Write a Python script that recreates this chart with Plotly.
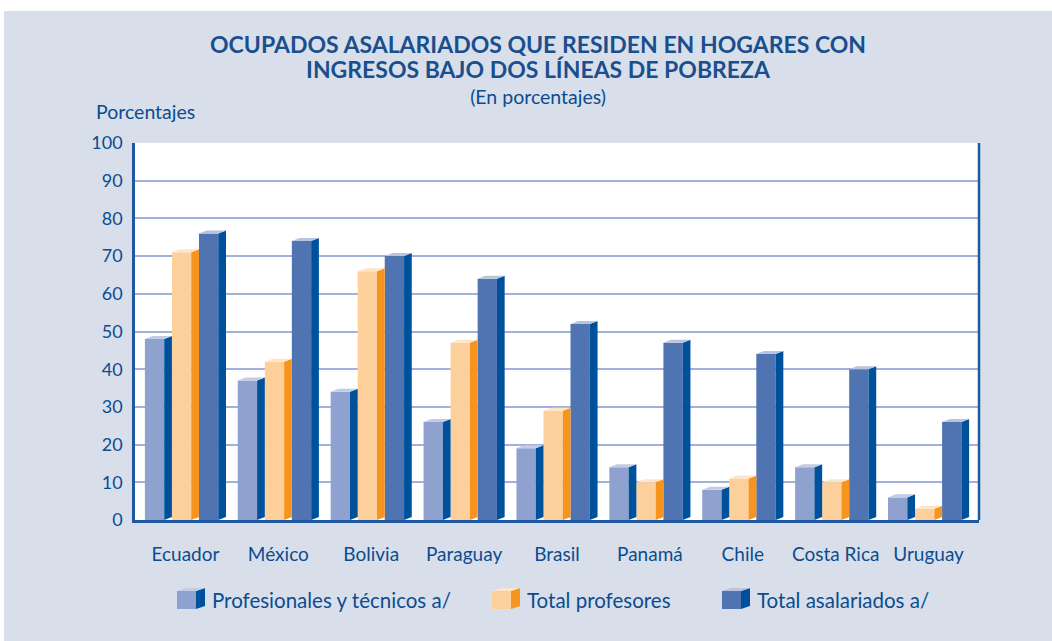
import plotly.graph_objects as go

categories = ["Ecuador", "México", "Bolivia", "Paraguay", "Brasil", "Panamá", "Chile", "Costa Rica", "Uruguay"]
profesionales = [48, 37, 34, 26, 19, 14, 8, 14, 6]
profesores = [71, 42, 66, 47, 29, 10, 11, 10, 3]
asalariados = [76, 74, 70, 64, 52, 47, 44, 40, 26]
series_names = ["Profesionales y técnicos a/", "Total profesores", "Total asalariados a/"]
y_ticks = [0, 10, 20, 30, 40, 50, 60, 70, 80, 90, 100]

series = [profesionales, profesores, asalariados]
front_cols = ["#8fa2cf", "#fdd09b", "#5073b2"]
side_cols = ["#00519b", "#f7941d", "#00519b"]
top_cols = ["#c3cce6", "#fee5c6", "#b9c3e0"]

W, H = 1052, 641
L, R, T, B = 135, 73, 143, 121
PW, PH = W - L - R, H - T - B

def px(x):
    return (x - L) / PW

def py(y):
    return (H - B - y) / PH

w = 0.208   # front face width (category units)
d = 0.083   # depth x
dy = 0.8    # depth y (value units)
start = -0.4365

fig = go.Figure()
n = len(categories)
for s, vals in enumerate(series):
    off = start + s * (w + d)
    fig.add_trace(go.Bar(x=list(range(n)), y=vals, width=w, offset=off,
                         marker=dict(color=front_cols[s], line=dict(width=0)),
                         name=series_names[s], showlegend=False, hoverinfo="y"))
    sx, sy, tx, ty = [], [], [], []
    for i, v in enumerate(vals):
        x0 = i + off
        x1 = x0 + w
        sx += [x1, x1 + d, x1 + d, x1, x1, None]
        sy += [0, dy, v + dy, v, 0, None]
        tx += [x0, x1, x1 + d, x0 + d, x0, None]
        ty += [v, v, v + dy, v + dy, v, None]
    fig.add_trace(go.Scatter(x=sx, y=sy, fill="toself", fillcolor=side_cols[s], mode="lines",
                             line=dict(width=0, color=side_cols[s]), showlegend=False, hoverinfo="skip"))
    fig.add_trace(go.Scatter(x=tx, y=ty, fill="toself", fillcolor=top_cols[s], mode="lines",
                             line=dict(width=0, color=top_cols[s]), showlegend=False, hoverinfo="skip"))

dark = "#0b4c8f"
txt_font = "Lato, 'Open Sans', sans-serif"

shapes = []
# white strip at top and left
shapes.append(dict(type="rect", xref="paper", yref="paper", x0=px(0), x1=px(W), y0=py(11), y1=py(0),
                   fillcolor="white", line=dict(width=0), layer="below"))
shapes.append(dict(type="rect", xref="paper", yref="paper", x0=px(0), x1=px(4), y0=py(H), y1=py(0),
                   fillcolor="white", line=dict(width=0), layer="below"))
# right border of plot
shapes.append(dict(type="line", xref="paper", yref="paper", x0=1, x1=1, y0=0, y1=1,
                   line=dict(color="#1f57a0", width=2.5)))

def ann(text, x, y, size, color=dark, xanchor="center"):
    return dict(text=text, x=px(x), y=py(y), xref="paper", yref="paper", showarrow=False,
                xanchor=xanchor, yanchor="middle", font=dict(family=txt_font, size=size, color=color))

title_text = ("<span style='font-size:23px;color:#1a4f8d'><b>OCUPADOS ASALARIADOS QUE RESIDEN EN HOGARES CON</b></span><br>"
              "<span style='font-size:23px;color:#1a4f8d'><b>INGRESOS BAJO DOS LÍNEAS DE POBREZA</b></span><br>"
              "(En porcentajes)")

annotations = [
    ann(title_text, 538, 69, 19.5),
    ann("Porcentajes", 94, 112, 19.5, xanchor="left"),
]

# manual legend
leg_x = [177, 492, 722]
for s in range(3):
    x0 = leg_x[s]
    x1 = x0 + 19
    x2 = x1 + 9
    ytop, ybot = 591, 609
    shapes.append(dict(type="rect", xref="paper", yref="paper", x0=px(x0), x1=px(x1), y0=py(ybot), y1=py(ytop),
                       fillcolor=front_cols[s], line=dict(width=0)))
    shapes.append(dict(type="path", xref="paper", yref="paper",
                       path=f"M {px(x1)},{py(ybot)} L {px(x2)},{py(ybot-3)} L {px(x2)},{py(ytop-3)} L {px(x1)},{py(ytop)} Z",
                       fillcolor=side_cols[s], line=dict(width=0)))
    shapes.append(dict(type="path", xref="paper", yref="paper",
                       path=f"M {px(x0)},{py(ytop)} L {px(x1)},{py(ytop)} L {px(x2)},{py(ytop-3)} L {px(x0+9)},{py(ytop-3)} Z",
                       fillcolor=top_cols[s], line=dict(width=0)))
    annotations.append(ann(series_names[s], x2 + 5, 600, 20.5, xanchor="left"))

fig.update_layout(
    width=W, height=H,
    margin=dict(l=L, r=R, t=T, b=B, pad=0),
    paper_bgcolor="#d8dfeb",
    plot_bgcolor="white",
    showlegend=False,
    shapes=shapes,
    annotations=annotations,
    xaxis=dict(range=[-0.543, n - 0.457], tickvals=list(range(n)), ticktext=categories,
               showgrid=False, zeroline=False, showline=True, linecolor="#1f57a0", linewidth=3,
               ticks="outside", ticklen=15, tickcolor="rgba(0,0,0,0)",
               tickfont=dict(family=txt_font, size=19, color=dark), fixedrange=True),
    yaxis=dict(range=[0, 100], tickvals=y_ticks, ticktext=[str(t) for t in y_ticks],
               showgrid=True, gridcolor="#a3b1da", gridwidth=2, zeroline=False,
               showline=True, linecolor="#1f57a0", linewidth=2.5,
               ticks="outside", ticklen=6, tickcolor="rgba(0,0,0,0)",
               tickfont=dict(family=txt_font, size=18, color=dark), fixedrange=True),
)

fig.write_html("out.html", config={"displayModeBar": False},
               post_script="document.body.style.margin='0';")
